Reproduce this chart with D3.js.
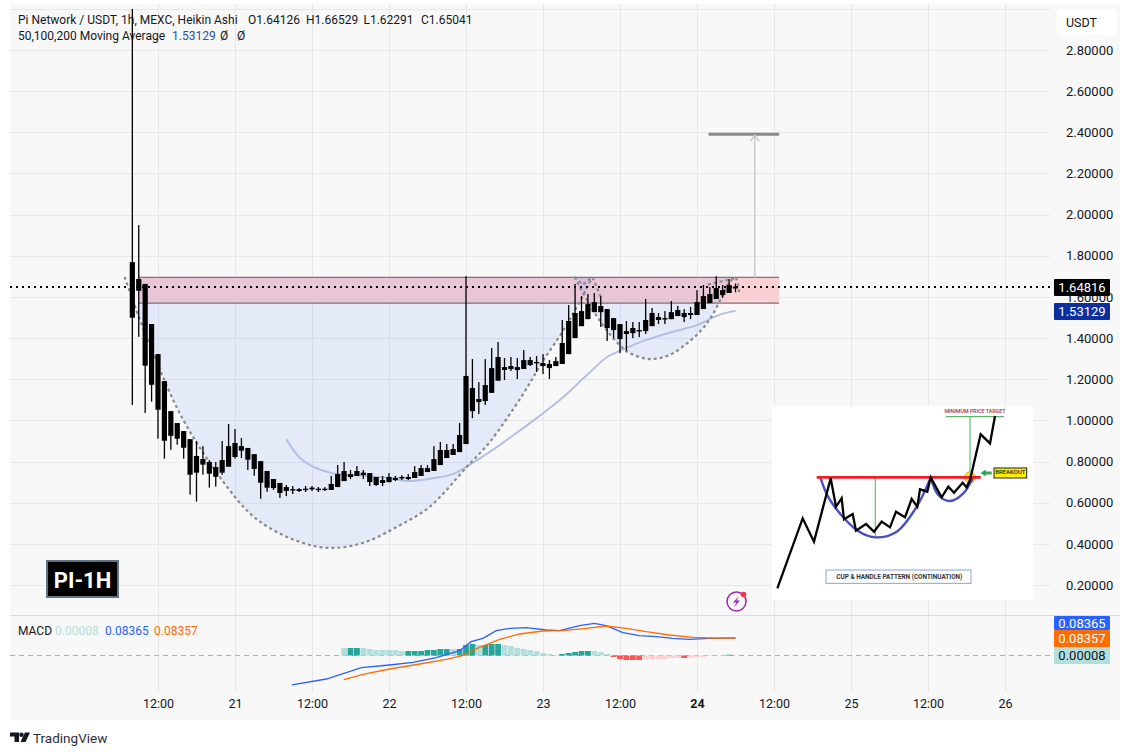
<!DOCTYPE html>
<html><head><meta charset="utf-8">
<script src="https://cdn.jsdelivr.net/npm/d3@7/dist/d3.min.js"></script>
<style>html,body{margin:0;padding:0;background:#fff;overflow:hidden}svg{display:block}text{font-family:Roboto,"Noto Sans",sans-serif}</style>
</head><body><svg id="c" width="1131" height="755"></svg>
<script>
// ---------- candle data (first bar = hour -4, relative to 12:00 on the 20th)
const firstHour = -4;
const wickHigh = [3.00,1.949,1.663,1.468,1.322,1.191,1.045,.987,.948,.909,.900,.875,.807,.798,.900,.982,.958,.914,.866,.836,.802,.754,.715,.696,.686,.681,.671,.681,.681,.676,.676,.730,.783,.798,.759,.778,.759,.744,.725,.730,.744,.730,.734,.739,.778,.783,.783,.875,.895,.885,.885,.987,1.701,1.298,1.186,1.298,1.352,1.381,1.303,1.308,1.303,1.342,1.308,1.313,1.322,1.293,1.308,1.488,1.561,1.663,1.604,1.614,1.619,1.604,1.541,1.497,1.468,1.483,1.478,1.478,1.590,1.546,1.522,1.531,1.580,1.556,1.541,1.551,1.633,1.658,1.648,1.701,1.658,1.687,1.66529];
const bodyHigh = [1.769,1.687,1.663,1.468,1.322,1.191,1.045,.987,.948,.909,.827,.812,.798,.773,.807,.875,.890,.875,.866,.836,.802,.754,.715,.696,.676,.666,.666,.668,.673,.668,.668,.691,.739,.754,.739,.754,.746,.744,.725,.710,.725,.721,.725,.725,.749,.768,.768,.812,.856,.856,.861,.929,1.216,1.157,1.104,1.172,1.254,1.308,1.259,1.264,1.259,1.293,1.293,1.284,1.279,1.274,1.288,1.376,1.483,1.522,1.531,1.565,1.575,1.556,1.541,1.497,1.468,1.434,1.449,1.439,1.488,1.522,1.502,1.497,1.526,1.536,1.522,1.522,1.575,1.604,1.614,1.643,1.633,1.658,1.65041];
const bodyLow = [1.499,1.630,1.266,1.173,1.052,.901,.925,.911,.867,.736,.746,.785,.741,.726,.746,.775,.822,.853,.809,.764,.697,.673,.671,.647,.657,.662,.657,.663,.665,.663,.663,.662,.676,.705,.725,.730,.734,.700,.686,.696,.700,.710,.718,.715,.720,.730,.749,.754,.783,.817,.832,.846,.885,1.045,1.089,1.094,1.134,1.193,1.245,1.250,1.245,1.250,1.269,1.279,1.264,1.254,1.264,1.274,1.322,1.400,1.458,1.492,1.526,1.526,1.449,1.439,1.395,1.420,1.424,1.434,1.434,1.458,1.488,1.494,1.492,1.507,1.502,1.512,1.512,1.541,1.570,1.590,1.609,1.619,1.64126];
const wickLow = [1.075,1.406,1.036,1.091,.911,.814,.857,.882,.814,.639,.605,.736,.673,.678,.736,.775,.814,.817,.759,.731,.619,.653,.662,.623,.632,.642,.652,.652,.657,.652,.657,.662,.676,.705,.715,.730,.715,.681,.681,.681,.700,.705,.710,.710,.720,.730,.749,.754,.783,.817,.832,.846,.885,1.011,1.031,1.075,1.134,1.193,1.196,1.240,1.201,1.250,1.264,1.235,1.225,1.201,1.264,1.274,1.322,1.400,1.458,1.492,1.526,1.454,1.386,1.400,1.327,1.337,1.400,1.405,1.420,1.458,1.468,1.468,1.492,1.507,1.478,1.492,1.512,1.541,1.570,1.590,1.595,1.619,1.62291];

// ---------- moving average (hour, price)
const maHours = [20,22,24,27,32,36,39,43,46,48,51,55,59,63,67,70,73,76,80,84,87,89,90];
const maValues = [.909,.821,.778,.744,.730,.720,.705,.720,.739,.773,.832,.919,1.011,1.109,1.225,1.308,1.352,1.390,1.429,1.463,1.507,1.526,1.53129];

// ---------- drawn pattern (hour, price)
const cupHours = [-5.2,-2.4,.3,3.7,8.1,13.8,17.4,22.6,26.8,31.9,37.2,42.3,48.1,51.7,56.8,59.9,62.9,65.2,67.7];
const cupPrices = [1.697,1.454,1.245,1.016,.793,.564,.477,.404,.380,.404,.482,.579,.773,.895,1.123,1.284,1.425,1.546,1.697];
const handleHours = [64.9,67.3,69.9,72.4,73.5,76.6,79.7,82.5,84.7,86.4,88,89.1,90,90.6];
const handlePrices = [1.697,1.561,1.439,1.352,1.327,1.298,1.318,1.376,1.439,1.512,1.609,1.672,1.692,1.618];
const capHours = [64.9,66.2,67.7,69];
const capPrices = [1.697,1.660,1.697,1.600];
const capRightHours = [85.7,90];
const capRightPrices = [1.660,1.692];
const zonePrices = [1.695,1.57];
const zoneHours = [-3,96.8];
const targetPrice = 2.39;
const targetHours = [85.8,96.8];
const arrowHour = 93;

// ---------- MACD
const macdHours = [20.84,26.24,31.69,36.1,39.74,43.37,47,48.8,50.64,52.7,54.8,57.4,60.5,62.6,65.7,68,69.85,72.45,75.05,77.64,80.2,82.8,85.95,90];
const macdValues = [-.141,-.1125,-.0582,-.0455,-.0327,-.0104,.0231,.0662,.0821,.1188,.130,.1332,.122,.1188,.1427,.154,.1427,.1092,.0949,.0901,.0821,.0773,.0821,.08365];
const signalHours = [28.94,31.95,36.1,40.8,44.93,47.27,50.12,53.24,56.35,60,63.1,66.74,69.85,72.97,76.08,79.7,83.35,86.5,90];
const signalValues = [-.1157,-.0901,-.0646,-.0407,-.0184,-.0024,.0391,.0773,.1029,.1172,.1188,.130,.1411,.130,.114,.098,.0869,.0837,.08357];
const histFirstHour = 29;
const histValues = [.0359,.0359,.0359,.0359,.0311,.0263,.0263,.0263,.0263,.0215,.0215,.0215,.0215,.0263,.0263,.0311,.0311,.0311,.0311,.0502,.0550,.0502,.0502,.0550,.0550,.0502,.0455,.0359,.0311,.0263,.0215,.0120,.0072,.0024,.0072,.0120,.0167,.0215,.0215,.0215,.0167,.0072,-.0072,-.0167,-.0215,-.0215,-.0215,-.0183,-.0183,-.0183,-.0167,-.0120,-.0120,-.0120,-.0120,-.0104,-.0072,-.0024,-.0008,-.0024,.0040,.00008];
const histStrong = [0,1,1,0,0,0,0,0,0,0,1,1,1,1,1,1,1,0,1,1,1,0,1,1,1,0,0,0,0,0,0,0,0,0,1,1,1,1,1,0,0,0,1,1,1,1,1,0,0,0,0,0,0,1,0,0,0,0,0,0,1,0];

// ---------- axes labels
const priceTicks = [.2,.4,.6,.8,1,1.2,1.4,1.6,1.8,2,2.2,2.4,2.6,2.8];
const timeTickHours = [0,12,24,36,48,60,72,84,96,108,120,132];
const timeTickLabels = ["12:00","21","12:00","22","12:00","23","12:00","24","12:00","25","12:00","26"];
const legendTitle = "Pi Network / USDT, 1h, MEXC, Heikin Ashi";
const legendOhlc = ["O1.64126","H1.66529","L1.62291","C1.65041"];
const lastPrice = 1.64816, maLast = 1.53129;
const macdLast = .08365, signalLast = .08357, histLast = .00008;

// ---------- inset sketch (own 0..810 / 0..615 picture units)
const insetPriceX = [22,98,132,182,198,215,222,248,258,288,312,335,360,378,405,425,442,450,472,482,515,535,552,578,590,600,632,660,675];
const insetPriceY = [565,355,425,235,320,295,358,342,392,372,395,365,382,335,352,297,320,268,275,232,292,260,278,248,262,240,103,130,48];
const insetCupX = [152,180,260,315,380,440,482];
const insetCupY = [235,300,390,412,395,320,232];
const insetHandleX = [482,505,540,580,610];
const insetHandleY = [232,285,303,280,232];

// ---------- scales
const svg = d3.select("#c");
const x = d3.scaleLinear().domain([0,132]).range([158,1005]);
const y = d3.scaleLinear().domain([.2,2.8]).range([585,50]);
const yM = d3.scaleLinear().domain([0,.1]).range([655.5,634.6]);
const ix = d3.scaleLinear().domain([0,810]).range([770,1040]);
const iy = d3.scaleLinear().domain([0,615]).range([400,605]);

// frame
svg.append("rect").attr("x",10).attr("y",4).attr("width",1110).attr("height",716).attr("fill","#f8f8f8");
const defs = svg.append("defs");
defs.append("clipPath").attr("id","main").append("rect").attr("x",10).attr("y",9).attr("width",1040).attr("height",606);
defs.append("clipPath").attr("id","cup").append("rect").attr("x",x(-2.9)).attr("y",0).attr("width",1000).attr("height",615);

// grid
const grid = svg.append("g").attr("stroke","#e7e7ea").attr("stroke-width",1);
grid.selectAll("line.h").data([3.0,...priceTicks]).join("line").attr("class","h")
  .attr("x1",10).attr("x2",1050).attr("y1",d=>Math.round(y(d))+.5).attr("y2",d=>Math.round(y(d))+.5);
grid.selectAll("line.v").data(timeTickHours).join("line").attr("class","v")
  .attr("x1",d=>Math.round(x(d))+.5).attr("x2",d=>Math.round(x(d))+.5).attr("y1",4).attr("y2",692);
svg.append("line").attr("x1",10).attr("x2",1120).attr("y1",615.5).attr("y2",615.5).attr("stroke","#dcd9e6");

// zone + cup + handle
const main = svg.append("g").attr("clip-path","url(#main)");
main.append("rect").attr("x",x(zoneHours[0])).attr("width",x(zoneHours[1])-x(zoneHours[0]))
  .attr("y",y(zonePrices[0])).attr("height",y(zonePrices[1])-y(zonePrices[0])).attr("fill","#fbd0d4");
const curve = d3.curveCatmullRom.alpha(.5);
const cupPts = cupHours.map((h,i)=>[h,cupPrices[i]]);
const hanPts = handleHours.map((h,i)=>[h,handlePrices[i]]);
const lineP = d3.line().x(d=>x(d[0])).y(d=>y(d[1])).curve(curve);
main.append("g").attr("clip-path","url(#cup)").append("path").attr("d",lineP(cupPts)+"Z").attr("fill","#2962ff").attr("fill-opacity",.09);
main.append("path").attr("d",lineP(hanPts.slice(0,-1))+"Z").attr("fill","#2962ff").attr("fill-opacity",.09);
zonePrices.forEach(p=>main.append("line").attr("x1",x(zoneHours[0])).attr("x2",x(zoneHours[1])).attr("y1",y(p)).attr("y2",y(p)).attr("stroke","#7d7377").attr("stroke-width",1.1));

// MA
main.append("path").attr("d",d3.line().x((d,i)=>x(maHours[i])).y(d=>y(d)).curve(curve)(maValues))
  .attr("fill","none").attr("stroke","#b4c0e2").attr("stroke-width",2);

// target and arrow
main.append("line").attr("x1",x(targetHours[0])).attr("x2",x(targetHours[1])).attr("y1",y(targetPrice)).attr("y2",y(targetPrice)).attr("stroke","#8a8a8a").attr("stroke-width",3);
main.append("line").attr("x1",x(arrowHour)).attr("x2",x(arrowHour)).attr("y1",y(zonePrices[0])).attr("y2",y(targetPrice)).attr("stroke","#c9c9c9").attr("stroke-width",1.5);
main.append("path").attr("d",`M${x(arrowHour)-4.5},${y(targetPrice)+7}L${x(arrowHour)},${y(targetPrice)+1}L${x(arrowHour)+4.5},${y(targetPrice)+7}`).attr("fill","none").attr("stroke","#c9c9c9").attr("stroke-width",1.5);

// dashed pattern outlines
const dash = {stroke:"#8a8a8f","stroke-width":2.2,"stroke-dasharray":"3 3",fill:"none"};
const applyDash = s => { Object.entries(dash).forEach(([k,v])=>s.attr(k,v)); return s; };
applyDash(main.append("path").attr("d",lineP(cupPts)));
applyDash(main.append("path").attr("d",lineP(hanPts)));
applyDash(main.append("path").attr("d",d3.line().x((d,i)=>x(capHours[i])).y(d=>y(d))(capPrices)));
applyDash(main.append("path").attr("d",d3.line().x((d,i)=>x(capRightHours[i])).y(d=>y(d))(capRightPrices)));

// legend (under candles)
const lg = svg.append("g").attr("font-size",12).attr("fill","#131722");
lg.append("text").attr("x",18).attr("y",24).text(legendTitle);
[248,306,363.5,421].forEach((px,i)=>lg.append("text").attr("x",px).attr("y",24).text(legendOhlc[i]));
lg.append("text").attr("x",18).attr("y",40).text("50,100,200 Moving Average");
lg.append("text").attr("x",172).attr("y",40).attr("fill","#2a4fa8").text(maLast.toFixed(5));
lg.append("text").attr("x",220).attr("y",40).text("Ø");
lg.append("text").attr("x",237).attr("y",40).text("Ø");

// candles
const candles = wickHigh.map((h,i)=>({h,t:bodyHigh[i],b:bodyLow[i],l:wickLow[i],hour:firstHour+i}));
const cg = main.append("g").attr("fill","#000").attr("stroke","none");
cg.selectAll("rect.w").data(candles).join("rect").attr("class","w")
  .attr("x",d=>x(d.hour)-.65).attr("width",1.3).attr("y",d=>y(d.h)).attr("height",d=>y(d.l)-y(d.h));
cg.selectAll("rect.b").data(candles).join("rect").attr("class","b")
  .attr("x",d=>x(d.hour)-2.6).attr("width",5.2).attr("y",d=>y(d.t)).attr("height",d=>Math.max(1.4,y(d.b)-y(d.t)));

// inset
const ins = svg.append("g");
ins.append("rect").attr("x",ix(6)).attr("y",iy(18)).attr("width",ix(790)-ix(6)).attr("height",iy(600)-iy(18)).attr("fill","#fff");
const il = (X,Y,c)=>d3.line().x((d,i)=>ix(X[i])).y(d=>iy(d)).curve(c||d3.curveLinear)(Y);
ins.append("line").attr("x1",ix(316)).attr("x2",ix(316)).attr("y1",iy(235)).attr("y2",iy(412)).attr("stroke","#5cb868").attr("stroke-width",1.1);
ins.append("line").attr("x1",ix(600)).attr("x2",ix(600)).attr("y1",iy(50)).attr("y2",iy(225)).attr("stroke","#5cb868").attr("stroke-width",1.1);
ins.append("line").attr("x1",ix(528)).attr("x2",ix(702)).attr("y1",iy(50)).attr("y2",iy(50)).attr("stroke","#5cb868").attr("stroke-width",1.1);
ins.append("circle").attr("cx",ix(600)).attr("cy",iy(232)).attr("r",5.5).attr("fill","#f3e01f").attr("stroke","#c9a227").attr("stroke-width",.8);
ins.append("path").attr("d",il(insetCupX,insetCupY,d3.curveCatmullRom)).attr("fill","none").attr("stroke","#4650c0").attr("stroke-width",2.4);
ins.append("path").attr("d",il(insetHandleX,insetHandleY,d3.curveCatmullRom)).attr("fill","none").attr("stroke","#4650c0").attr("stroke-width",2.4);
ins.append("line").attr("x1",ix(140)).attr("x2",ix(632)).attr("y1",iy(232)).attr("y2",iy(232)).attr("stroke","#ee1c25").attr("stroke-width",2.6);
ins.append("path").attr("d",il(insetPriceX,insetPriceY)).attr("fill","none").attr("stroke","#000").attr("stroke-width",2.3);
ins.append("text").attr("x",ix(615)).attr("y",iy(39)).attr("text-anchor","middle").attr("font-size",5.3).attr("font-weight",500).attr("fill","#a0304f").text("MINIMUM PRICE TARGET");
ins.append("path").attr("d",`M${ix(632)},${iy(219)}l5,-3.6v2.2h6v2.8h-6v2.2z`).attr("fill","#2fa84f");
ins.append("rect").attr("x",ix(672)).attr("y",iy(204)).attr("width",ix(770)-ix(672)).attr("height",iy(234)-iy(204)).attr("fill","#ffee00").attr("stroke","#333").attr("stroke-width",1.1);
ins.append("text").attr("x",ix(721)).attr("y",iy(223)).attr("text-anchor","middle").attr("font-size",6).attr("font-weight",500).attr("fill","#222").text("BREAKOUT");
ins.append("rect").attr("x",ix(168)).attr("y",iy(510)).attr("width",ix(603)-ix(168)).attr("height",iy(550)-iy(510)).attr("fill","#fff").attr("stroke","#86a3d4").attr("stroke-width",1);
ins.append("text").attr("x",ix(388)).attr("y",iy(536)).attr("text-anchor","middle").attr("font-size",6.4).attr("font-weight",700).attr("fill","#333").text("CUP & HANDLE PATTERN (CONTINUATION)");

// bolt icon
const ic = svg.append("g");
ic.append("circle").attr("cx",736.5).attr("cy",601.5).attr("r",9.5).attr("fill","none").attr("stroke","#9c27b0").attr("stroke-width",1.5);
ic.append("path").attr("d","M739,596L733,602.5H736.5L733.8,607.5L740,600.5H736.5Z").attr("fill","#9c27b0");
ic.append("circle").attr("cx",743.5).attr("cy",594.5).attr("r",2.8).attr("fill","#f23645");

// PI-1H
svg.append("rect").attr("x",47).attr("y",561).attr("width",71).attr("height",36).attr("fill","#000").attr("stroke","#5f7488").attr("stroke-width",2);
svg.append("text").attr("x",82.5).attr("y",587.5).attr("text-anchor","middle").attr("font-size",22).attr("font-weight",700).attr("fill","#fff").text("PI-1H");

// last price line
svg.append("line").attr("x1",10).attr("x2",1052).attr("y1",y(lastPrice)).attr("y2",y(lastPrice)).attr("stroke","#000").attr("stroke-width",2).attr("stroke-dasharray","2 4");

// MACD pane
svg.append("line").attr("x1",10).attr("x2",1050).attr("y1",yM(0)).attr("y2",yM(0)).attr("stroke","#b0b0b0").attr("stroke-dasharray","5 4");
const hist = histValues.map((v,i)=>({v,s:histStrong[i],hour:histFirstHour+i}));
svg.append("g").selectAll("rect").data(hist).join("rect")
  .attr("x",d=>x(d.hour)-2.9).attr("width",5.8)
  .attr("y",d=>Math.min(yM(d.v),yM(0))).attr("height",d=>Math.abs(yM(d.v)-yM(0)))
  .attr("fill",d=>d.v>=0?(d.s?"#26a69a":"#b2dfdb"):(d.s?"#ff5252":"#ffcdd2"));
svg.append("path").attr("d",d3.line().x((d,i)=>x(macdHours[i])).y(d=>yM(d))(macdValues).toString()).attr("fill","none").attr("stroke","#2962ff").attr("stroke-width",1.3);
svg.append("path").attr("d",d3.line().x((d,i)=>x(signalHours[i])).y(d=>yM(d))(signalValues).toString()).attr("fill","none").attr("stroke","#ff6d00").attr("stroke-width",1.3);
const ml = svg.append("g").attr("font-size",12);
ml.append("text").attr("x",18).attr("y",635).attr("fill","#131722").text("MACD");
ml.append("text").attr("x",55).attr("y",635).attr("fill","#b2dfdb").text(histLast.toFixed(5));
ml.append("text").attr("x",105).attr("y",635).attr("fill","#2962ff").text(macdLast.toFixed(5));
ml.append("text").attr("x",154).attr("y",635).attr("fill","#ff6d00").text(signalLast.toFixed(5));

// axes
const yAxis = d3.axisRight(y).tickValues(priceTicks).tickSize(0).tickPadding(0).tickFormat(d3.format(".5f"));
const ya = svg.append("g").attr("transform","translate(1066,0)").call(yAxis);
ya.select(".domain").remove();
ya.selectAll("text").attr("font-size",13).attr("fill","#131722").attr("font-family","Roboto");
const xAxis = d3.axisBottom(x).tickValues(timeTickHours).tickSize(0).tickPadding(0).tickFormat((d,i)=>timeTickLabels[i]);
const xa = svg.append("g").attr("transform","translate(0,699)").call(xAxis);
xa.select(".domain").remove();
xa.selectAll("text").attr("font-size",12.5).attr("fill","#131722").attr("font-family","Roboto")
  .attr("font-weight",(d,i)=>timeTickLabels[i]==="24"?700:400);

// USDT chip
svg.append("rect").attr("x",1057).attr("y",9).attr("width",60).attr("height",26).attr("rx",4).attr("fill","#fff");
svg.append("text").attr("x",1066).attr("y",26.5).attr("font-size",12.5).attr("fill","#131722").text("USDT");

// axis labels
const tag = (y0,h,fill,txt,col)=>{
  svg.append("rect").attr("x",1054).attr("y",y0).attr("width",56).attr("height",h).attr("rx",1).attr("fill",fill);
  svg.append("text").attr("x",1082).attr("y",y0+h/2+4.5).attr("text-anchor","middle").attr("font-size",13).attr("fill",col).text(txt);
};
tag(279,17,"#000",lastPrice.toFixed(5),"#fff");
tag(303,17,"#0d2f9f",maLast.toFixed(5),"#fff");
tag(616,14,"#2962ff",macdLast.toFixed(5),"#fff");
tag(630,17,"#ff6d00",signalLast.toFixed(5),"#fff");
tag(647,17,"#b2dfdb",histLast.toFixed(5),"#131722");

// TradingView mark
const tv = svg.append("g").attr("fill","#131722");
tv.append("path").attr("d","M10,732.5H19V742H14.5V736.5H10Z");
tv.append("circle").attr("cx",21.5).attr("cy",734.7).attr("r",2.2);
tv.append("path").attr("d","M25,732.5H30L25.5,742H20.5Z");
svg.append("text").attr("x",33).attr("y",742.5).attr("font-size",13.5).attr("fill","#2a2e39").text("TradingView");
</script></body></html>
